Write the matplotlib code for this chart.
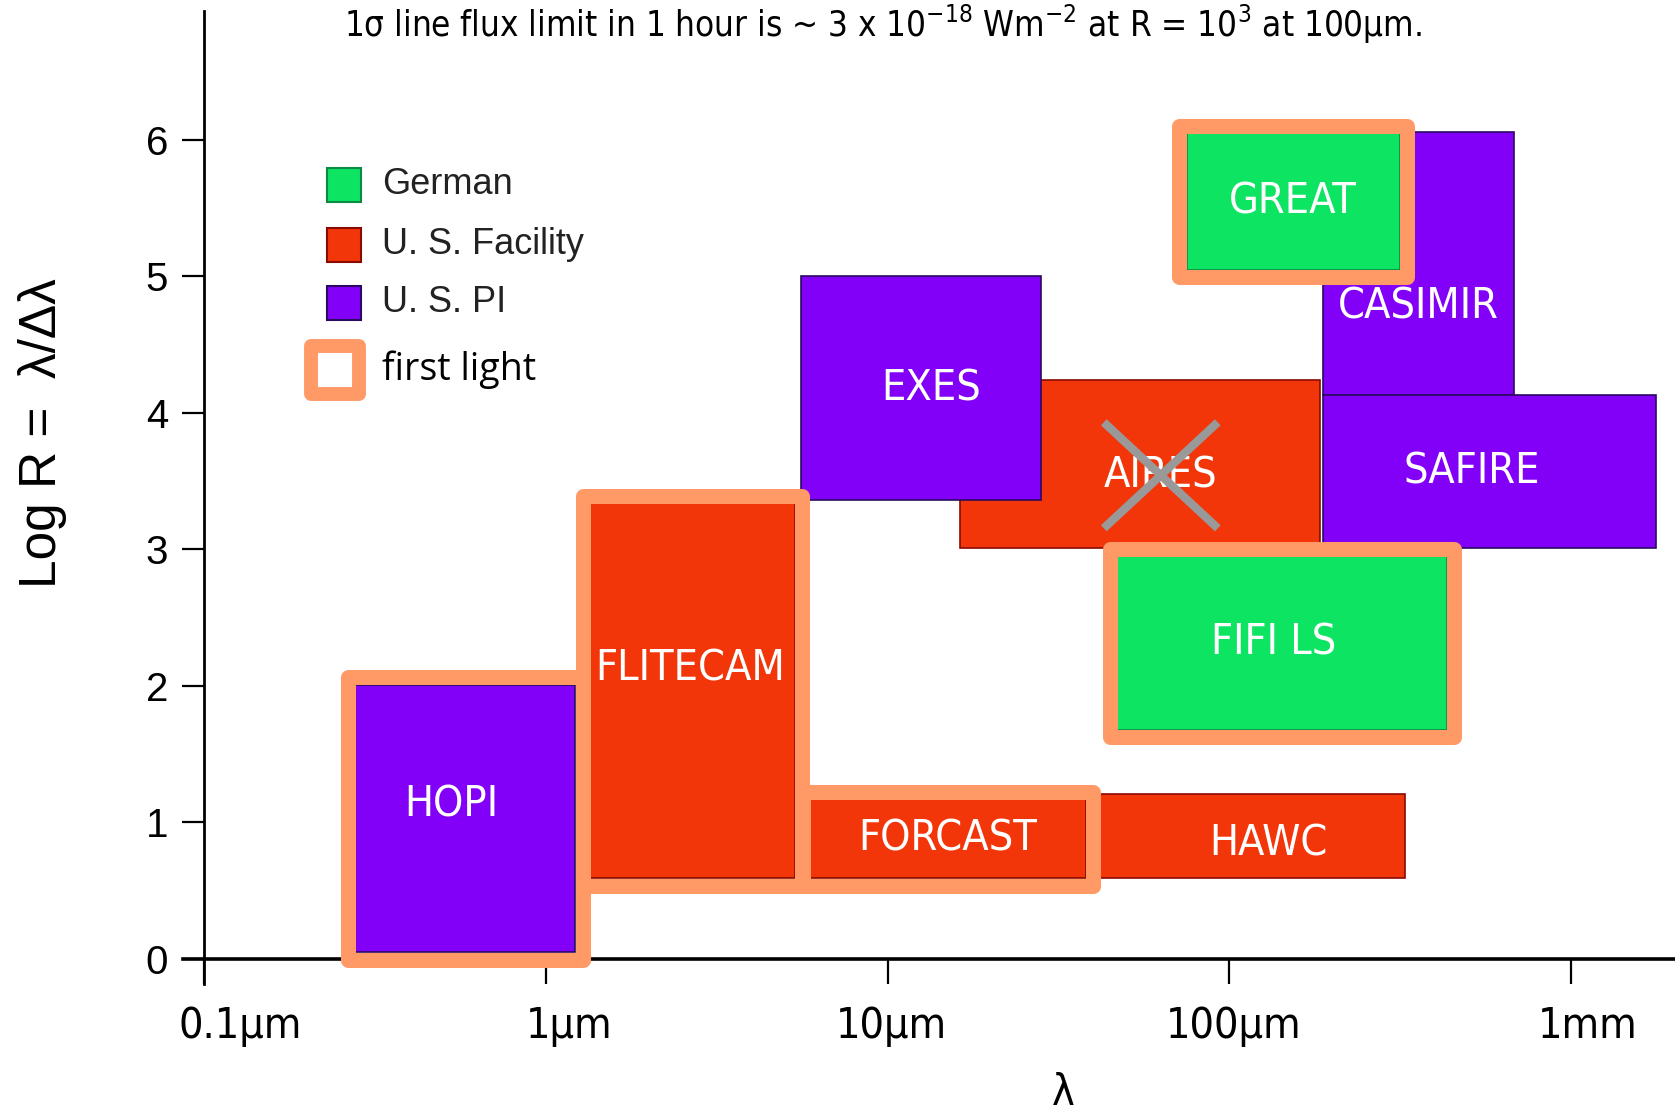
import numpy as np
import matplotlib
matplotlib.use("Agg")
import matplotlib.pyplot as plt
from matplotlib.patches import Rectangle

# ---- instrument coverage (wavelength in micron, log10 of resolving power) ----
instruments = ["HOPI", "FLITECAM", "FORCAST", "HAWC", "AIRES",
               "EXES", "CASIMIR", "SAFIRE", "GREAT", "FIFI LS"]
lam_min = [0.277, 1.35, 5.94, 40.5, 16.3, 5.6, 188, 188, 75, 47]
lam_max = [1.22, 5.36, 38.0, 327, 184, 28.2, 681, 1770, 315, 433]
logR_min = [0.05, 0.59, 0.59, 0.59, 3.01, 3.36, 4.13, 3.01, 5.05, 1.68]
logR_max = [2.01, 3.34, 1.17, 1.21, 4.24, 5.00, 6.06, 4.13, 6.05, 2.95]
group = ["U. S. PI", "U. S. Facility", "U. S. Facility", "U. S. Facility",
         "U. S. Facility", "U. S. PI", "U. S. PI", "U. S. PI", "German", "German"]
first_light = ["HOPI", "FLITECAM", "FORCAST", "GREAT", "FIFI LS"]
cancelled = "AIRES"

groups = ["German", "U. S. Facility", "U. S. PI"]
xtick_lam = [0.1, 1, 10, 100, 1000]
xtick_labels = ["0.1\u00b5m", "1\u00b5m", "10\u00b5m", "100\u00b5m", "1mm"]
ytick_values = [0, 1, 2, 3, 4, 5, 6]

# ---- styling ----
fill = {"German": "#0ce462", "U. S. Facility": "#f2360a", "U. S. PI": "#8200f8"}
edge = {"German": "#0a8a45", "U. S. Facility": "#8a0a00", "U. S. PI": "#2a0a60"}
ORANGE = "#ff9966"
NARROW = ["Liberation Sans Narrow", "DejaVu Sans"]
HELV = ["Liberation Sans", "DejaVu Sans"]

label_shift = {"HOPI": (-10, 10), "FLITECAM": (-2, 16), "CASIMIR": (0, -31),
               "AIRES": (15, -8), "HAWC": (13, -5), "SAFIRE": (-13, 0),
               "EXES": (7, 0), "FIFI LS": (-6, 0)}
xtick_nudge_pt = [26, 17, 3, 3, 12]

W, H = 1675, 1115
fig = plt.figure(figsize=(W / 100, H / 100), dpi=100)

xlo, xhi = -1.06, 3.304
ylo, yhi = -0.18, 6.945
ax_left_px = 204 - 0.06 * 341.8
ax_bot_px = 1115 - (959 + 0.18 * 136.5)
ax_top_px = 1115 - 11
ax = fig.add_axes([ax_left_px / W, ax_bot_px / H,
                   (W - ax_left_px) / W, (ax_top_px - ax_bot_px) / H])
ax.set_xlim(xlo, xhi)
ax.set_ylim(ylo, yhi)

# spines crossing at (0.1 micron, logR = 0)
for s in ["top", "right"]:
    ax.spines[s].set_visible(False)
ax.spines["left"].set_position(("data", -1))
ax.spines["bottom"].set_position(("data", 0))
ax.spines["left"].set_linewidth(2.0)
ax.spines["bottom"].set_linewidth(2.6)
ax.spines["left"].set_zorder(2)
ax.spines["bottom"].set_zorder(2)

ax.set_xticks(np.log10(xtick_lam))
ax.set_xticklabels([])
ax.set_yticks(ytick_values)
ax.set_yticklabels([str(v) for v in ytick_values], family=HELV, fontsize=29)
ax.tick_params(axis="x", direction="out", length=18, width=1.6, pad=12)
ax.tick_params(axis="y", direction="out", length=16, width=1.6, pad=10)

# wavelength labels under the ticks (condensed face)
for lam, txt, dpt in zip(xtick_lam, xtick_labels, xtick_nudge_pt):
    ax.annotate(txt, (np.log10(lam), 0), xytext=(dpt, -33),
                textcoords="offset points", ha="center", va="top",
                family=NARROW, fontsize=31, fontstretch="condensed",
                annotation_clip=False)

# px -> data scale, for padding the first-light frames
px_x = (xhi - xlo) / ax.get_position().width / W
px_y = (yhi - ylo) / ax.get_position().height / H

boxes = {}
for name, l0, l1, r0, r1, g in zip(instruments, lam_min, lam_max,
                                   logR_min, logR_max, group):
    x0, x1 = np.log10(l0), np.log10(l1)
    ax.add_patch(Rectangle((x0, r0), x1 - x0, r1 - r0, facecolor=fill[g],
                           edgecolor=edge[g], linewidth=1.2, zorder=3))
    boxes[name] = (x0, x1, r0, r1)

# first-light frames
pad = 7.5
for name in first_light:
    x0, x1, r0, r1 = boxes[name]
    ax.add_patch(Rectangle((x0 - pad * px_x, r0 - pad * px_y),
                           x1 - x0 + 2 * pad * px_x, r1 - r0 + 2 * pad * px_y,
                           facecolor="none", edgecolor=ORANGE, linewidth=10.8,
                           joinstyle="round", zorder=4))

# instrument names
for name in instruments:
    x0, x1, r0, r1 = boxes[name]
    dx, dy = label_shift.get(name, (0, 0))
    ax.annotate(name, ((x0 + x1) / 2, (r0 + r1) / 2), xytext=(dx, dy),
                textcoords="offset points", ha="center", va="center",
                color="white", family=NARROW, fontsize=31,
                fontstretch="condensed", zorder=6)

# cancelled instrument marked with a cross
x0, x1, r0, r1 = boxes[cancelled]
dx, dy = label_shift[cancelled]
cx = (x0 + x1) / 2 + dx / 0.72 * px_x
cy = (r0 + r1) / 2 + dy / 0.72 * px_y
hx, hy = 57 * px_x, 53 * px_y
ax.plot([cx - hx, cx + hx], [cy + hy, cy - hy], color="#999999", lw=6,
        solid_capstyle="butt", zorder=7)
ax.plot([cx - hx, cx + hx], [cy - hy, cy + hy], color="#999999", lw=6,
        solid_capstyle="butt", zorder=7)

# axis labels
fig.text(43 / W, 1 - 433 / H, "Log R =  \u03bb/\u0394\u03bb", rotation=90,
         ha="center", va="center", family=HELV, fontsize=37)
fig.text(1063 / W, 1 - 1093 / H, "\u03bb", ha="center", va="center",
         family=NARROW, fontsize=31, fontstretch="condensed")

# title line
fig.text(883 / W, 1 - 24 / H,
         "1\u03c3 line flux limit in 1 hour is ~ 3 x 10$^{\\mathregular{-18}}$ "
         "Wm$^{\\mathregular{-2}}$ at R = 10$^{\\mathregular{3}}$ at 100\u00b5m.",
         ha="center", va="center", family=NARROW, fontsize=25,
         fontstretch="condensed")

# legend
def fx(x):
    return x / W

def fy(y):
    return 1 - y / H

sq = 34
for g, yc in zip(groups, [185, 245, 303]):
    fig.add_artist(Rectangle((fx(344 - sq / 2), fy(yc + sq / 2)), sq / W, sq / H,
                             transform=fig.transFigure, facecolor=fill[g],
                             edgecolor=edge[g], linewidth=1.5))
    fig.text(fx(382), fy(yc), g, ha="left", va="center", family=HELV,
             fontsize=26, color="#222222")
side = 48
fig.add_artist(Rectangle((fx(335 - side / 2), fy(370 + side / 2)), side / W, side / H,
                         transform=fig.transFigure, facecolor="white",
                         edgecolor=ORANGE, linewidth=10, joinstyle="round"))
fig.text(fx(382), fy(370), "first light", ha="left", va="center",
         family=["Open Sans", "DejaVu Sans"], fontsize=27, color="black")

fig.savefig("out.png", dpi=100)
